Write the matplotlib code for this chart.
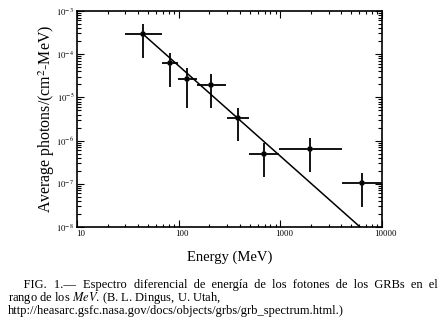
import numpy as np
import matplotlib
matplotlib.use("Agg")
import matplotlib.pyplot as plt
from matplotlib.ticker import FixedLocator, FuncFormatter
from matplotlib.transforms import ScaledTranslation

plt.rcParams['mathtext.fontset'] = 'stix'
serif = 'Liberation Serif'

energy = [44.6, 82, 120, 208, 383, 690, 1950, 6340]
flux = [2.9e-4, 6.3e-5, 2.7e-5, 1.94e-5, 3.3e-6, 4.9e-7, 6.5e-7, 1.05e-7]
e_lo = [29.6, 68.6, 98, 151, 298, 491, 968, 4040]
e_hi = [68.6, 98, 151, 292, 491, 968, 4040, 10000]
f_lo = [8.2e-5, 1.7e-5, 5.7e-6, 5.7e-6, 9.8e-7, 1.44e-7, 1.85e-7, 2.9e-8]
f_hi = [5.0e-4, 1.07e-4, 4.8e-5, 3.5e-5, 5.7e-6, 8.7e-7, 1.15e-6, 1.78e-7]

# ajuste de ley de potencias (extremos)
fit_e = [44.6, 6100]
fit_f = [2.9e-4, 1e-8]

xticks = [10, 100, 1000, 10000]
yticks = [1e-8, 1e-7, 1e-6, 1e-5, 1e-4, 1e-3]

caption1 = 'FIG. 1.— Espectro diferencial de energía de los fotones de los GRBs en el'
caption2 = 'rango de los $\\mathit{MeV}$. (B. L. Dingus, U. Utah,'
caption3 = 'http://heasarc.gsfc.nasa.gov/docs/objects/grbs/grb_spectrum.html.)'

energy = np.array(energy)
flux = np.array(flux)
xerr = [energy - np.array(e_lo), np.array(e_hi) - energy]
yerr = [flux - np.array(f_lo), np.array(f_hi) - flux]

fig = plt.figure(figsize=(4.4, 3.24), dpi=100)
ax = fig.add_axes([0.175, 0.2994, 0.693, 0.667])

ax.errorbar(energy, flux, xerr=xerr, yerr=yerr, fmt='x', color='black',
            ms=3.5, mew=1.2, elinewidth=1.3, capsize=0)
ax.plot(fit_e, fit_f, color='black', lw=1.1)

ax.set_xscale('log')
ax.set_yscale('log')
ax.set_xlim(10, 10000)
ax.set_ylim(1e-8, 1e-3)
ax.xaxis.set_major_locator(FixedLocator(xticks))
ax.yaxis.set_major_locator(FixedLocator(yticks))
ax.xaxis.set_major_formatter(FuncFormatter(lambda v, p: '%d' % v))
ax.yaxis.set_major_formatter(FuncFormatter(lambda v, p: '$10^{%d}$' % round(np.log10(v))))

ax.tick_params(which='both', direction='in', top=True, right=True, width=0.8)
ax.tick_params(which='major', length=5, labelsize=6.3, pad=2)
ax.tick_params(axis='x', which='minor', length=2)
ax.tick_params(axis='y', which='minor', length=3)
for lab in ax.get_xticklabels() + ax.get_yticklabels():
    lab.set_family(serif)
shift = ScaledTranslation(3.5/100, 0, fig.dpi_scale_trans)
for lab in ax.get_xticklabels():
    lab.set_transform(lab.get_transform() + shift)
for sp in ax.spines.values():
    sp.set_linewidth(1.2)

ax.set_ylabel('Average photons/(cm$^2$-MeV)', family=serif, fontsize=11.4)
ax.yaxis.set_label_coords(-0.066, 0.5)
ax.set_xlabel('Energy (MeV)', family=serif, fontsize=10.5, labelpad=9)

# pie de figura en un solo texto; primera linea sangrada y justificada
fs = 9
fam = [serif, 'DejaVu Sans']
r = fig.canvas.get_renderer()
x0, x1 = 8/440, 437/440
indent = ' ' * 5
words = caption1.split()
gaps = [' '] * (len(words) - 1)
cap = fig.text(x0, 1 - 314/324, '', family=fam, fontsize=fs,
               ha='left', va='baseline', linespacing=0.88)
def build():
    s = indent + words[0]
    for g, w in zip(gaps, words[1:]):
        s += g + w
    return s + '\n' + caption2 + '\n' + caption3
k = 0
for _ in range(400):
    cap.set_text(build())
    if x0 + cap.get_window_extent(r).width / fig.bbox.width >= x1:
        break
    gaps[k % len(gaps)] += '\u200a'
    k += 1

fig.savefig('out.png', dpi=100)
